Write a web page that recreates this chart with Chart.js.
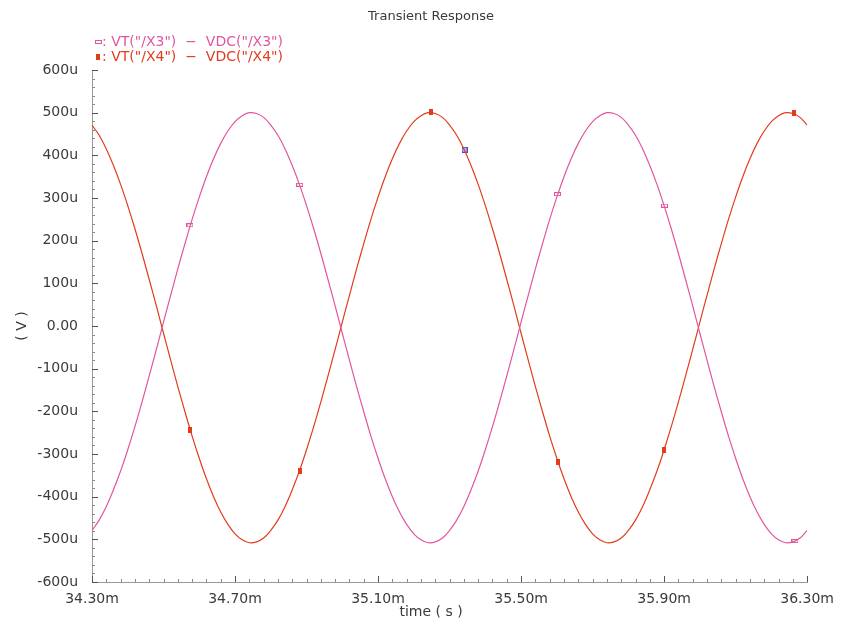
<!DOCTYPE html>
<html>
<head>
<meta charset="utf-8">
<script src="https://cdn.jsdelivr.net/npm/chart.js@4.4.0/dist/chart.umd.min.js"></script>
<style>
  html, body { margin: 0; padding: 0; background: #ffffff; }
  #wrap { position: relative; width: 843px; height: 626px; }
  canvas { display: block; }
</style>
</head>
<body>
<div id="wrap"><canvas id="c" width="843" height="626"></canvas></div>
<script>
// ---- data (time in ms, voltage in microvolts) ----
const chartTitle = 'Transient Response';
const xAxisTitle = 'time ( s )';
const yAxisTitle = '( V )';
const seriesNames = ['VT("/X3")  \u2212  VDC("/X3")', 'VT("/X4")  \u2212  VDC("/X4")'];

const time = [
  34.30, 34.32, 34.34, 34.36, 34.38, 34.40, 34.42, 34.44, 34.46, 34.48,
  34.50, 34.52, 34.54, 34.56, 34.58, 34.60, 34.62, 34.64, 34.66, 34.68,
  34.70, 34.72, 34.74, 34.76, 34.78, 34.80, 34.82, 34.84, 34.86, 34.88,
  34.90, 34.92, 34.94, 34.96, 34.98, 35.00, 35.02, 35.04, 35.06, 35.08,
  35.10, 35.12, 35.14, 35.16, 35.18, 35.20, 35.22, 35.24, 35.26, 35.28,
  35.30, 35.32, 35.34, 35.36, 35.38, 35.40, 35.42, 35.44, 35.46, 35.48,
  35.50, 35.52, 35.54, 35.56, 35.58, 35.60, 35.62, 35.64, 35.66, 35.68,
  35.70, 35.72, 35.74, 35.76, 35.78, 35.80, 35.82, 35.84, 35.86, 35.88,
  35.90, 35.92, 35.94, 35.96, 35.98, 36.00, 36.02, 36.04, 36.06, 36.08,
  36.10, 36.12, 36.14, 36.16, 36.18, 36.20, 36.22, 36.24, 36.26, 36.28,
  36.30
];

const vX3 = [
  -479, -455, -423, -384, -340, -290, -236, -178, -117, -55,
  9, 72, 134, 193, 250, 302, 350, 392, 428, 457,
  479, 493, 500, 498, 489, 471, 447, 415, 376, 332,
  282, 228, 170, 109, 47, -17, -80, -142, -201, -258,
  -310, -358, -400, -436, -465, -487, -501, -508, -506, -497,
  -479, -455, -423, -384, -340, -290, -236, -178, -117, -55,
  9, 72, 134, 193, 250, 302, 350, 392, 428, 457,
  479, 493, 500, 498, 489, 471, 447, 415, 376, 332,
  282, 228, 170, 109, 47, -17, -80, -142, -201, -258,
  -310, -358, -400, -436, -465, -487, -501, -508, -506, -497,
  -479
];

const vX4 = [
  471, 447, 415, 376, 332, 282, 228, 170, 109, 47,
  -17, -80, -142, -201, -258, -310, -358, -400, -436, -465,
  -487, -501, -508, -506, -497, -479, -455, -423, -384, -340,
  -290, -236, -178, -117, -55, 9, 72, 134, 193, 250,
  302, 350, 392, 428, 457, 479, 493, 500, 498, 489,
  471, 447, 415, 376, 332, 282, 228, 170, 109, 47,
  -17, -80, -142, -201, -258, -310, -358, -400, -436, -465,
  -487, -501, -508, -506, -497, -479, -455, -423, -384, -340,
  -290, -236, -178, -117, -55, 9, 72, 134, 193, 250,
  302, 350, 392, 428, 457, 479, 493, 500, 498, 489,
  471
];

// trace markers
const markX3Time = [34.574, 34.881, 35.602, 35.901, 36.266];
const markX3Val  = [236, 331, 309, 282, -504];
const markX4Time = [34.574, 34.881, 35.247, 35.602, 35.901, 36.264];
const markX4Val  = [-244, -340, 501, -318, -291, 499];
const cursorTime = [35.342];
const cursorVal  = [413];

// axis ticks
const xTickValues = [34.30, 34.70, 35.10, 35.50, 35.90, 36.30];
const xTickLabels = ['34.30m', '34.70m', '35.10m', '35.50m', '35.90m', '36.30m'];
const yTickValues = [600, 500, 400, 300, 200, 100, 0, -100, -200, -300, -400, -500, -600];
const yTickLabels = ['600u', '500u', '400u', '300u', '200u', '100u', '0.00', '-100u', '-200u', '-300u', '-400u', '-500u', '-600u'];

// ---- styles ----
const PINK = '#e2559f';
const RED = '#e23c1c';
const BLUE = '#4a48c8';
const TXT = '#3a3a3a';
const FONT = '"DejaVu Sans", sans-serif';

function markerImg(w, h, stroke, fill) {
  const c = document.createElement('canvas');
  c.width = w; c.height = h;
  const g = c.getContext('2d');
  if (fill) { g.fillStyle = fill; g.fillRect(0, 0, w, h); }
  g.strokeStyle = stroke; g.lineWidth = 1;
  g.strokeRect(0.5, 0.5, w - 1, h - 1);
  return c;
}
const mPink = markerImg(7, 4, PINK, '#ffffff');
const mRed = markerImg(4, 6, RED, RED);
const mBlue = markerImg(6, 6, BLUE, '#b8b8f0');

const pts = (xs, ys) => xs.map((x, i) => ({ x: x, y: ys[i] }));

const ticksPlugin = {
  id: 'ticksPlugin',
  beforeDatasetsDraw(chart) {
    const ctx = chart.ctx;
    const xs = chart.scales.x, ys = chart.scales.y;
    const ca = chart.chartArea;
    ctx.save();
    ctx.lineWidth = 1;
    // y ticks (inside, pointing right)
    for (let i = 0; i <= 60; i++) {
      const v = -600 + i * 20;
      const major = (i % 5 === 0);
      const py = Math.round(ys.getPixelForValue(v)) + 0.5;
      ctx.strokeStyle = major ? '#555555' : '#8a8a8a';
      ctx.beginPath();
      ctx.moveTo(ca.left, py);
      ctx.lineTo(ca.left + (major ? 6 : 3), py);
      ctx.stroke();
    }
    // x ticks (inside, pointing up)
    for (let i = 0; i <= 50; i++) {
      const t = 34.3 + i * 0.04;
      const major = (i % 10 === 0);
      const px = Math.round(xs.getPixelForValue(t)) + 0.5;
      ctx.strokeStyle = major ? '#555555' : '#8a8a8a';
      ctx.beginPath();
      ctx.moveTo(px, ca.bottom);
      ctx.lineTo(px, ca.bottom - (major ? 6 : 3));
      ctx.stroke();
    }
    ctx.restore();
  },
  afterDraw(chart) {
    const ctx = chart.ctx;
    const ca = chart.chartArea;
    ctx.save();
    // title
    ctx.fillStyle = TXT;
    ctx.font = '13px ' + FONT;
    ctx.textAlign = 'center';
    ctx.textBaseline = 'middle';
    ctx.fillText(chartTitle, 431, 17);
    // x axis title
    ctx.font = '14px ' + FONT;
    ctx.fillText(xAxisTitle, 431, 612);
    // y axis title
    ctx.save();
    ctx.translate(22, (ca.top + ca.bottom) / 2);
    ctx.rotate(-Math.PI / 2);
    ctx.fillText(yAxisTitle, 0, 0);
    ctx.restore();
    // legend
    const items = [
      { img: mPink, color: PINK, text: seriesNames[0], y: 42 },
      { img: mRed, color: RED, text: seriesNames[1], y: 57 }
    ];
    ctx.font = '14px ' + FONT;
    ctx.textAlign = 'left';
    items.forEach(it => {
      ctx.drawImage(it.img, 98 - Math.floor(it.img.width / 2), it.y - Math.floor(it.img.height / 2));
      ctx.fillStyle = it.color;
      ctx.fillText(': ' + it.text, 102, it.y);
    });
    ctx.restore();
  }
};

new Chart(document.getElementById('c'), {
  type: 'line',
  data: {
    datasets: [
      { label: seriesNames[0], data: pts(time, vX3), borderColor: PINK, borderWidth: 1.2,
        pointRadius: 0, tension: 0.4, fill: false },
      { label: seriesNames[1], data: pts(time, vX4), borderColor: RED, borderWidth: 1.2,
        pointRadius: 0, tension: 0.4, fill: false },
      { label: 'mX3', data: pts(markX3Time, markX3Val), showLine: false,
        pointStyle: mPink, pointRadius: 4, borderColor: PINK, backgroundColor: PINK },
      { label: 'mX4', data: pts(markX4Time, markX4Val), showLine: false,
        pointStyle: mRed, pointRadius: 4, borderColor: RED, backgroundColor: RED },
      { label: 'cursor', data: pts(cursorTime, cursorVal), showLine: false,
        pointStyle: mBlue, pointRadius: 4, borderColor: BLUE, backgroundColor: BLUE }
    ]
  },
  options: {
    responsive: false,
    animation: false,
    devicePixelRatio: 1,
    layout: { padding: { left: 0, right: 35, top: 70, bottom: 0 } },
    plugins: { legend: { display: false }, title: { display: false }, tooltip: { enabled: false } },
    scales: {
      x: {
        type: 'linear', min: 34.3, max: 36.3,
        afterBuildTicks: s => { s.ticks = xTickValues.map(v => ({ value: v })); },
        afterFit: s => { s.height = 44; },
        grid: { display: true, drawOnChartArea: false, drawTicks: false },
        border: { display: true, color: '#9a9a9a', width: 1 },
        ticks: {
          padding: 9, color: TXT, font: { family: FONT, size: 14 }, maxRotation: 0,
          autoSkip: false,
          callback: (v) => { const i = xTickValues.findIndex(t => Math.abs(t - v) < 1e-6); return i >= 0 ? xTickLabels[i] : ''; }
        }
      },
      y: {
        type: 'linear', min: -600, max: 600,
        afterBuildTicks: s => { s.ticks = yTickValues.map(v => ({ value: v })); },
        afterFit: s => { s.width = 92; },
        grid: { display: true, drawOnChartArea: false, drawTicks: false },
        border: { display: true, color: '#9a9a9a', width: 1 },
        ticks: {
          padding: 14, color: TXT, font: { family: FONT, size: 14 }, autoSkip: false,
          callback: (v) => { const i = yTickValues.indexOf(v); return i >= 0 ? yTickLabels[i] : ''; }
        }
      }
    }
  },
  plugins: [ticksPlugin]
});
</script>
</body>
</html>
